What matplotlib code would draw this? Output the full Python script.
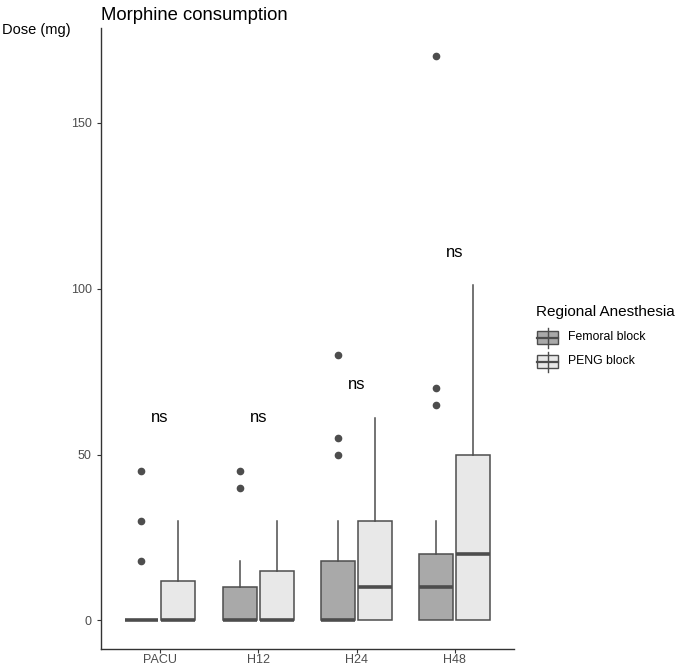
import matplotlib
matplotlib.use("Agg")
from matplotlib import pyplot as plt
from matplotlib.patches import Rectangle

plt.rcParams['font.family'] = ['Liberation Sans', 'DejaVu Sans']

# data
times = ["PACU", "H12", "H24", "H48"]
groups = ["Femoral block", "PENG block"]

fem_med = [0, 0, 0, 10]
fem_q1 = [0, 0, 0, 0]
fem_q3 = [0, 10, 18, 20]
fem_lo = [0, 0, 0, 0]
fem_hi = [0, 18, 30, 30]
fem_out = [[45, 30, 18], [45, 40], [80, 55, 50], [170, 70, 65]]

peng_med = [0, 0, 10, 20]
peng_q1 = [0, 0, 0, 0]
peng_q3 = [12, 15, 30, 50]
peng_lo = [0, 0, 0, 0]
peng_hi = [30, 30, 61, 101]
peng_out = [[], [], [], []]

ns_y = [61, 61, 71, 111]
ns_labels = ["ns", "ns", "ns", "ns"]

fills = ["#A9A9A9", "#E8E8E8"]
edge = "#4D4D4D"


def make_stats(med, q1, q3, lo, hi, out):
    return [dict(med=m, q1=a, q3=b, whislo=l, whishi=h, fliers=f)
            for m, a, b, l, h, f in zip(med, q1, q3, lo, hi, out)]


fig = plt.figure(figsize=(6.77, 6.66), dpi=100)
ax = fig.add_axes([0.149, 0.026, 0.61, 0.932])

offset = 0.187
width = 0.345
all_stats = [make_stats(fem_med, fem_q1, fem_q3, fem_lo, fem_hi, fem_out),
             make_stats(peng_med, peng_q1, peng_q3, peng_lo, peng_hi, peng_out)]
for g, stats in enumerate(all_stats):
    pos = [i + 1 + (offset if g else -offset) for i in range(len(times))]
    ax.bxp(stats, positions=pos, widths=width, patch_artist=True,
           showcaps=False, manage_ticks=False,
           boxprops=dict(facecolor=fills[g], edgecolor=edge, linewidth=1.1),
           whiskerprops=dict(color=edge, linewidth=1.1),
           medianprops=dict(color=edge, linewidth=2.6, solid_capstyle="butt"),
           flierprops=dict(marker="o", markerfacecolor=edge, markeredgecolor=edge,
                           markersize=4.5, linestyle="none"))

for i, (y, lab) in enumerate(zip(ns_y, ns_labels)):
    ax.text(i + 1, y, lab, ha="center", va="center", fontsize=12)

ax.set_xlim(0.4, 4.6)
ax.set_ylim(-8.5, 178.5)
ax.set_xticks(range(1, len(times) + 1))
ax.set_xticklabels(times)
ax.set_yticks([0, 50, 100, 150])
ax.tick_params(colors="#333333", labelcolor="#4D4D4D", labelsize=9, length=3, width=0.8)
ax.tick_params(axis="x", pad=1)
for s in ["top", "right"]:
    ax.spines[s].set_visible(False)
for s in ["left", "bottom"]:
    ax.spines[s].set_color("#333333")
    ax.spines[s].set_linewidth(1.0)

ax.set_title("Morphine consumption", loc="left", fontsize=13.3, pad=6)
fig.text(0.003, 0.955, "Dose (mg)", fontsize=10.5, ha="left", va="center")

# legend drawn by hand in pixel space, ggplot style keys
lax = fig.add_axes([0, 0, 1, 1], zorder=-1)
lax.set_xlim(0, 677)
lax.set_ylim(666, 0)
lax.axis("off")
lax.text(536, 312, "Regional Anesthesia", fontsize=11, ha="left", va="center")
for k, (lab, fc) in enumerate(zip(groups, fills)):
    yc = 337.5 + 24 * k
    lax.plot([547.5, 547.5], [yc - 10, yc + 10], color=edge, lw=1.0)
    lax.add_patch(Rectangle((537, yc - 6.5), 21, 13, facecolor=fc, edgecolor=edge, lw=1.0))
    lax.plot([537, 558], [yc, yc], color=edge, lw=1.6)
    lax.text(568, yc, lab, fontsize=8.8, ha="left", va="center")

fig.savefig("out.png", dpi=100)
